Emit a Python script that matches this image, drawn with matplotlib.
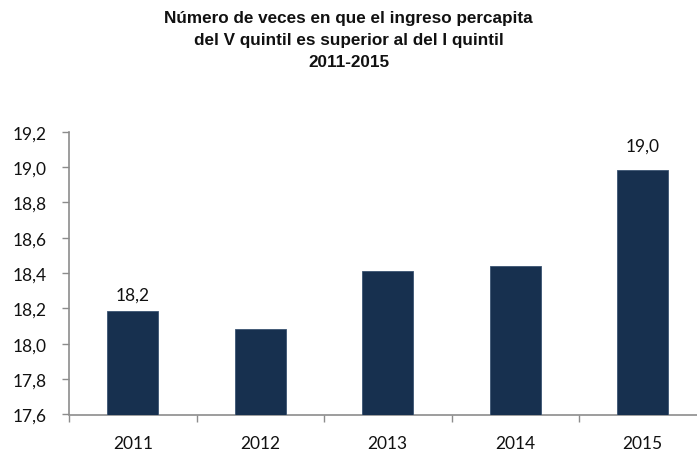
import matplotlib.pyplot as plt
from matplotlib.ticker import FuncFormatter, FixedLocator

# === Data ===
years = ['2011', '2012', '2013', '2014', '2015']
veces = [18.185, 18.082, 18.411, 18.438, 18.984]
shown_labels = ['18,2', None, None, None, '19,0']
label_offsets = [6, 0, 0, 0, 12]  # points above the bar

BAR_COLOR = '#17304f'
AXIS_COLOR = '#8c8c8c'
TICK_FONT = ['Lato', 'DejaVu Sans']
TITLE_FONT = ['Liberation Sans Narrow', 'Liberation Sans', 'DejaVu Sans']

# === Plot ===
fig = plt.figure(figsize=(6.97, 4.56), dpi=100)
W, H = 697, 456
left, right, bottom, top = 69, 706.5, 415.5, 132.7
ax = fig.add_axes([left / W, 1 - bottom / H, (right - left) / W, (bottom - top) / H])

x = range(len(years))
ax.bar(x, veces, width=0.4, color=BAR_COLOR, edgecolor='#3a5372', linewidth=0.6, zorder=3)

for i, (v, lab, off) in enumerate(zip(veces, shown_labels, label_offsets)):
    if lab:
        ax.annotate(lab, (i, v), xytext=(0, off), textcoords='offset points',
                    ha='center', va='bottom', fontsize=12.5, family=TICK_FONT, color='#111111')

ax.set_xlim(-0.5, len(years) - 0.5)
ax.set_ylim(17.6, 19.2)
ax.set_yticks([17.6, 17.8, 18.0, 18.2, 18.4, 18.6, 18.8, 19.0, 19.2])
ax.yaxis.set_major_formatter(FuncFormatter(lambda v, p: f"{v:.1f}".replace('.', ',')))

# category labels centred, ticks at the boundaries
ax.xaxis.set_major_locator(FixedLocator([i + 0.5 for i in range(-1, len(years))]))
ax.xaxis.set_major_formatter(FuncFormatter(lambda v, p: ''))
ax.set_xticks(list(x), minor=True)
ax.set_xticklabels(years, minor=True)
ax.tick_params(axis='x', which='minor', length=0, pad=15)
ax.tick_params(axis='x', which='major', length=5, width=1, color=AXIS_COLOR, direction='out')
ax.tick_params(axis='y', length=5, width=1, color=AXIS_COLOR, direction='out', pad=11)

for lbl in ax.get_xticklabels(minor=True) + ax.get_yticklabels():
    lbl.set_fontfamily(TICK_FONT)
    lbl.set_fontsize(12.5)
    lbl.set_color('#111111')

for s in ['top', 'right']:
    ax.spines[s].set_visible(False)
for s in ['left', 'bottom']:
    ax.spines[s].set_color(AXIS_COLOR)
    ax.spines[s].set_linewidth(1.2)

fig.text(0.5, 1 - 40.5 / H,
         "Número de veces en que el ingreso percapita\ndel V quintil es superior al del I quintil\n2011-2015",
         ha='center', va='center', fontsize=12.3, fontweight='bold', family=TITLE_FONT,
         linespacing=1.55, color='#111111')

fig.savefig('out.png', dpi=100)
